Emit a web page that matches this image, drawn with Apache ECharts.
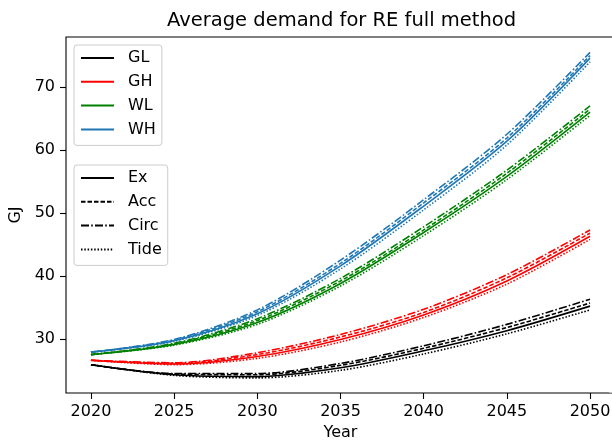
<!DOCTYPE html>
<html>
<head>
<meta charset="utf-8">
<script src="https://cdn.jsdelivr.net/npm/echarts@6/dist/echarts.min.js"></script>
<style>
  html, body { margin: 0; padding: 0; background: #fff; overflow: hidden; width: 612px; height: 440px; }
  /* the plot frame runs a few pixels past the right edge of the page */
  #chart { width: 640px; height: 440px; }
</style>
</head>
<body>
<div id="chart"></div>
<script>
// Years sampled along each curve
const years = [2020, 2025, 2030, 2035, 2040, 2045, 2050];

// Average demand (GJ) per building group and projection method
const glEx   = [25.9, 24.3, 24.0, 25.4, 28.1, 31.3, 35.2];
const glAcc  = [25.9, 24.4, 24.3, 25.8, 28.5, 31.8, 35.7];
const glCirc = [25.9, 24.5, 24.5, 26.1, 28.9, 32.3, 36.3];
const glTide = [25.9, 24.2, 23.8, 25.0, 27.6, 30.8, 34.6];

const ghEx   = [26.6, 26.0, 27.2, 29.9, 33.8, 39.2, 46.3];
const ghAcc  = [26.6, 26.1, 27.5, 30.3, 34.2, 39.7, 46.8];
const ghCirc = [26.6, 26.2, 27.8, 30.7, 34.7, 40.2, 47.3];
const ghTide = [26.6, 25.9, 26.9, 29.5, 33.4, 38.7, 45.8];

const wlEx   = [27.5, 29.1, 32.6, 38.8, 46.9, 55.8, 66.0];
const wlAcc  = [27.5, 29.2, 32.9, 39.2, 47.3, 56.3, 66.5];
const wlCirc = [27.5, 29.3, 33.2, 39.6, 47.8, 56.8, 67.0];
const wlTide = [27.5, 29.0, 32.3, 38.4, 46.4, 55.3, 65.5];

const whEx   = [27.9, 29.7, 34.0, 41.6, 51.1, 61.4, 74.6];
const whAcc  = [27.9, 29.8, 34.3, 42.0, 51.6, 61.9, 75.0];
const whCirc = [27.9, 29.9, 34.6, 42.5, 52.1, 62.5, 75.5];
const whTide = [27.9, 29.6, 33.7, 41.1, 50.5, 60.8, 74.0];

const groups  = ['GL', 'GH', 'WL', 'WH'];
const methods = ['Ex', 'Acc', 'Circ', 'Tide'];
const xTicks  = [2020, 2025, 2030, 2035, 2040, 2045, 2050];
const yTicks  = [30, 40, 50, 60, 70];

const table = {
  GL: [glEx, glAcc, glCirc, glTide],
  GH: [ghEx, ghAcc, ghCirc, ghTide],
  WL: [wlEx, wlAcc, wlCirc, wlTide],
  WH: [whEx, whAcc, whCirc, whTide]
};

// Styling
const FONT = 'DejaVu Sans';
const colors = { GL: '#000000', GH: '#ff0000', WL: '#008000', WH: '#1f77b4' };
const dashes = {
  Ex: 'solid',
  Acc: [4.5, 2],
  Circ: [8, 2.2, 1.6, 2.2],
  Tide: [1.5, 1.8]
};
const LW = 1.6;

const series = [];
groups.forEach(g => {
  methods.forEach((m, k) => {
    const vals = table[g][k];
    series.push({
      name: g + ' ' + m,
      type: 'line',
      data: years.map((y, i) => [y, vals[i]]),
      smooth: 0.3,
      symbol: 'none',
      lineStyle: { color: colors[g], width: LW, type: dashes[m] },
      itemStyle: { color: colors[g] }
    });
  });
});

const legendBase = {
  orient: 'vertical',
  left: 74,
  itemWidth: 33,
  itemHeight: 16,
  itemGap: 7.8,
  selectedMode: false,
  itemStyle: { opacity: 0 },
  backgroundColor: 'rgba(255,255,255,0.8)',
  borderColor: '#cccccc',
  borderWidth: 1,
  borderRadius: 3,
  padding: [5, 6, 8, 6],
  textStyle: { fontFamily: FONT, fontSize: 16, color: '#000', padding: [0, 0, 0, 9], lineHeight: 16 }
};

const tickStyle = { color: '#000', width: 1.1 };
const labelFont = { fontFamily: FONT, fontSize: 16, color: '#000' };

const chart = echarts.init(document.getElementById('chart'), null, { renderer: 'canvas' });
chart.setOption({
  animation: false,
  backgroundColor: '#ffffff',
  title: {
    text: 'Average demand for RE full method',
    left: 162,
    top: 6,
    textStyle: { fontFamily: FONT, fontSize: 19.5, fontWeight: 'normal', color: '#000' }
  },
  legend: [
    // colour key: solid line of each group
    Object.assign({}, legendBase, {
      top: 45,
      data: groups.map(g => g + ' Ex'),
      formatter: n => n.split(' ')[0]
    }),
    // line-style key: black lines of each method
    Object.assign({}, legendBase, {
      top: 165,
      data: methods.map(m => 'GL ' + m),
      formatter: n => n.split(' ')[1]
    })
  ],
  grid: {
    left: 66, top: 37, right: 25, bottom: 47,
    outerBoundsMode: 'none',
    containLabel: false,
    show: true, borderColor: '#000', borderWidth: 1.1
  },
  // blank margin strip at the right edge of the page
  graphic: [{
    type: 'rect',
    z: 100,
    silent: true,
    shape: { x: 609, y: 38.5, width: 40, height: 354 },
    style: { fill: '#ffffff' }
  }],
  xAxis: {
    type: 'value',
    min: 2018.5, max: 2051.5,
    name: 'Year',
    nameLocation: 'middle',
    nameGap: 31,
    nameTextStyle: labelFont,
    axisLine: { show: false },
    axisTick: { show: true, length: 6, lineStyle: tickStyle, customValues: xTicks },
    axisLabel: Object.assign({ margin: 11, customValues: xTicks, formatter: v => String(v) }, labelFont),
    splitLine: { show: false }
  },
  yAxis: {
    type: 'value',
    min: 21.4, max: 77.95,
    name: 'GJ',
    nameLocation: 'middle',
    nameGap: 38,
    nameTextStyle: labelFont,
    axisLine: { show: false },
    axisTick: { show: true, length: 6, lineStyle: tickStyle, customValues: yTicks },
    axisLabel: Object.assign({ margin: 11, customValues: yTicks, formatter: v => String(v) }, labelFont),
    splitLine: { show: false }
  },
  series: series
});
</script>
</body>
</html>
